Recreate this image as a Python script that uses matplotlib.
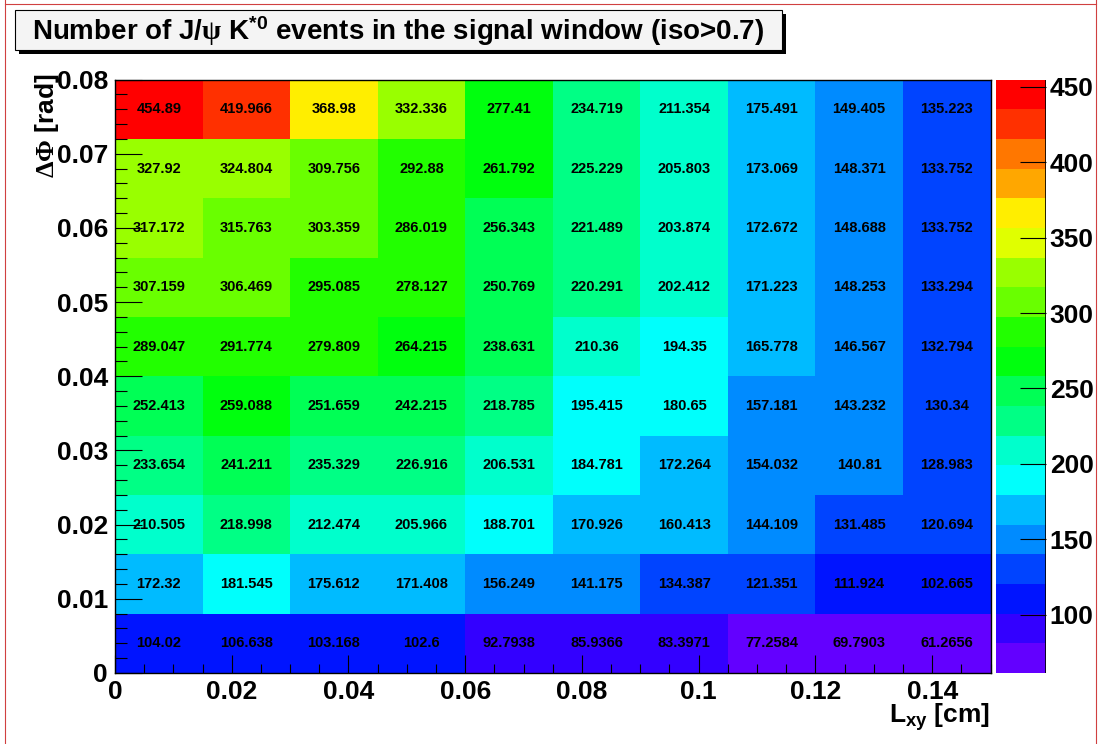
import colorsys
import numpy as np
from matplotlib import pyplot as plt
from matplotlib.colors import ListedColormap, Normalize
from matplotlib.patches import Rectangle
from matplotlib.lines import Line2D

plt.rcParams['font.family'] = ['Liberation Sans', 'DejaVu Sans']
plt.rcParams['font.weight'] = 'bold'
plt.rcParams['mathtext.default'] = 'regular'
plt.rcParams['mathtext.fontset'] = 'custom'
plt.rcParams['mathtext.rm'] = 'Liberation Serif'

# bin edges : L_xy [cm] and Delta Phi [rad]
lxy_edges = np.linspace(0, 0.15, 11)
dphi_edges = np.linspace(0, 0.08, 11)

# number of events, one row per dphi bin (bottom row first)
row0 = [104.02, 106.638, 103.168, 102.6, 92.7938, 85.9366, 83.3971, 77.2584, 69.7903, 61.2656]
row1 = [172.32, 181.545, 175.612, 171.408, 156.249, 141.175, 134.387, 121.351, 111.924, 102.665]
row2 = [210.505, 218.998, 212.474, 205.966, 188.701, 170.926, 160.413, 144.109, 131.485, 120.694]
row3 = [233.654, 241.211, 235.329, 226.916, 206.531, 184.781, 172.264, 154.032, 140.81, 128.983]
row4 = [252.413, 259.088, 251.659, 242.215, 218.785, 195.415, 180.65, 157.181, 143.232, 130.34]
row5 = [289.047, 291.774, 279.809, 264.215, 238.631, 210.36, 194.35, 165.778, 146.567, 132.794]
row6 = [307.159, 306.469, 295.085, 278.127, 250.769, 220.291, 202.412, 171.223, 148.253, 133.294]
row7 = [317.172, 315.763, 303.359, 286.019, 256.343, 221.489, 203.874, 172.672, 148.688, 133.752]
row8 = [327.92, 324.804, 309.756, 292.88, 261.792, 225.229, 205.803, 173.069, 148.371, 133.752]
row9 = [454.89, 419.966, 368.98, 332.336, 277.41, 234.719, 211.354, 175.491, 149.405, 135.223]
z = np.array([row0, row1, row2, row3, row4, row5, row6, row7, row8, row9])

cbar_ticks = [100, 150, 200, 250, 300, 350, 400, 450]

# ROOT "pretty" palette, 50 colours, 20 contours
ncont = 20
cols = []
for i in range(ncont):
    idx = int((i + 0.99) * 50 / ncont)
    hue = 280. - (idx + 1) * 280. / 50
    cols.append(colorsys.hls_to_rgb(hue / 360., 0.5, 1.0))
cmap = ListedColormap(cols)
norm = Normalize(vmin=z.min(), vmax=z.max())

W, H = 1100, 744
fig = plt.figure(figsize=(W / 100, H / 100), dpi=100)

def fx(px):
    return px / W

def fy(py):
    return 1 - py / H

ax = fig.add_axes([fx(115), fy(673), fx(990.5) - fx(115), fy(79.5) - fy(673)])
cax = fig.add_axes([fx(996), fy(673), fx(1045.5) - fx(996), fy(79.5) - fy(673)])

mesh = ax.pcolormesh(lxy_edges, dphi_edges, z, cmap=cmap, norm=norm)
xc = 0.5 * (lxy_edges[1:] + lxy_edges[:-1])
yc = 0.5 * (dphi_edges[1:] + dphi_edges[:-1])
for j in range(len(yc)):
    for i in range(len(xc)):
        ax.text(xc[i], yc[j], '%g' % z[j, i], ha='center', va='center',
                fontsize=10.5, fontweight='bold', color='black')

ax.set_xlim(0, 0.15)
ax.set_ylim(0, 0.08)
ax.set_xticks(np.arange(0, 0.15, 0.02))
ax.set_xticklabels(['0', '0.02', '0.04', '0.06', '0.08', '0.1', '0.12', '0.14'])
ax.set_xticks(np.arange(0, 0.1501, 0.005), minor=True)
ax.set_yticks(np.arange(0, 0.0801, 0.01))
ax.set_yticklabels(['0', '0.01', '0.02', '0.03', '0.04', '0.05', '0.06', '0.07', '0.08'])
ax.set_yticks(np.arange(0, 0.0801, 0.002), minor=True)
ax.tick_params(axis='x', which='major', direction='in', length=13, width=0.8,
               labelsize=19, pad=5, top=False)
ax.tick_params(axis='x', which='minor', direction='in', length=6.5, width=0.8, top=False)
ax.tick_params(axis='y', which='major', direction='in', length=19.5, width=0.8,
               labelsize=19, pad=5, right=False)
ax.tick_params(axis='y', which='minor', direction='in', length=8.5, width=0.8, right=False)
for lab in ax.get_xticklabels() + ax.get_yticklabels():
    lab.set_fontweight('bold')
for s in ax.spines.values():
    s.set_linewidth(1.0)

cb = fig.colorbar(mesh, cax=cax)
cb.set_ticks(cbar_ticks)
cb.outline.set_visible(False)
cax.tick_params(which='major', direction='in', length=19, width=0.8, labelsize=19, pad=3)
cax.tick_params(which='minor', length=0)
cax.add_line(Line2D([1, 1], [0, 1], transform=cax.transAxes, color='black', lw=1.2))
for lab in cax.get_yticklabels():
    lab.set_fontweight('bold')

# axis titles
fig.text(fx(47), fy(73), r'$\mathrm{\Delta\Phi}$ [rad]', rotation=90, ha='center', va='top',
         fontsize=19, fontweight='bold')
fig.text(fx(990), fy(723), 'L$_{xy}$ [cm]', ha='right', va='baseline',
         fontsize=19, fontweight='bold')

# title pave with shadow
fig.add_artist(Rectangle((fx(19), fy(54)), fx(782) - fx(15), fy(10) - fy(50),
                         transform=fig.transFigure, facecolor='black', edgecolor='none'))
fig.add_artist(Rectangle((fx(15), fy(50)), fx(782) - fx(15), fy(10) - fy(50),
                         transform=fig.transFigure, facecolor='#f4f4f4',
                         edgecolor='black', lw=0.8))
fig.text(fx(398), fy(31), r'Number of J/$\mathrm{\psi}$ K$^{*0}$ events in the signal window (iso>0.7)',
         ha='center', va='center', fontsize=20, fontweight='bold')

# canvas border
for xs, ys in [([5, 5], [0, H]), ([1096, 1096], [0, H]), ([5, 1096], [4, 4])]:
    fig.add_artist(Line2D([fx(v) for v in xs], [fy(v) for v in ys],
                          transform=fig.transFigure, color='#d04040', lw=0.8))

fig.savefig('out.png', dpi=100)
